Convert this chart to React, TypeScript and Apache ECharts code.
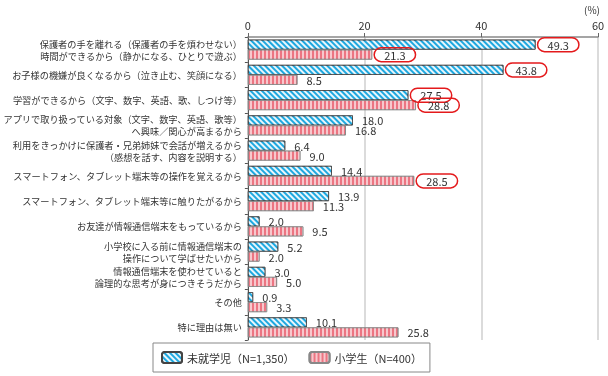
import React, { useEffect, useRef } from "react";
import * as echarts from "echarts";

const categories = [
  "保護者の手を離れる（保護者の手を煩わせない）\n時間ができるから（静かになる、ひとりで遊ぶ）",
  "お子様の機嫌が良くなるから（泣き止む、笑顔になる）",
  "学習ができるから（文字、数字、英語、歌、しつけ等）",
  "アプリで取り扱っている対象（文字、数字、英語、歌等）\nへ興味／関心が高まるから",
  "利用をきっかけに保護者・兄弟姉妹で会話が増えるから\n（感想を話す、内容を説明する）",
  "スマートフォン、タブレット端末等の操作を覚えるから",
  "スマートフォン、タブレット端末等に触りたがるから",
  "お友達が情報通信端末をもっているから",
  "小学校に入る前に情報通信端末の\n操作について学ばせたいから",
  "情報通信端末を使わせていると\n論理的な思考が身につきそうだから",
  "その他",
  "特に理由は無い",
];
const preschool = [49.3, 43.8, 27.5, 18.0, 6.4, 14.4, 13.9, 2.0, 5.2, 3.0, 0.9, 10.1];
const elementary = [21.3, 8.5, 28.8, 16.8, 9.0, 28.5, 11.3, 9.5, 2.0, 5.0, 3.3, 25.8];
const preschoolCircled = [0, 1, 2];
const elementaryCircled = [0, 2, 5];
const seriesNames = ["未就学児（N=1,350）", "小学生（N=400）"];
const xTicks = [0, 20, 40, 60];

const FONT = "'Noto Sans CJK JP', 'Noto Sans', sans-serif";

const circleLabel = {
  borderColor: "#e41a1c",
  borderWidth: 1.5,
  borderRadius: 10,
  padding: [2, 10, 1, 10],
  offset: [-7, 0],
};

function mkData(vals: number[], circled: number[]) {
  return vals.map((v, i) =>
    circled.includes(i) ? { value: v, label: circleLabel } : { value: v }
  );
}

export default function App() {
  const ref = useRef<HTMLDivElement>(null);
  useEffect(() => {
    if (!ref.current) return;
    const chart = echarts.init(ref.current, undefined, { renderer: "svg" });
    const labelBase = {
      show: true,
      position: "right" as const,
      distance: 9,
      color: "#333",
      fontSize: 11,
      fontFamily: FONT,
      formatter: (p: any) => Number(p.value).toFixed(1),
    };
    chart.setOption({
      animation: false,
      textStyle: { fontFamily: FONT },
      grid: { left: 246, right: 10, top: 37, bottom: 36, containLabel: false },
      xAxis: {
        type: "value",
        position: "top",
        min: xTicks[0],
        max: xTicks[xTicks.length - 1],
        interval: 20,
        axisLine: { show: true, lineStyle: { color: "#888", width: 1.5 } },
        axisTick: { show: true, length: 4, lineStyle: { color: "#666" } },
        axisLabel: { color: "#333", fontSize: 11, margin: 7, fontFamily: FONT },
        splitLine: { show: true, lineStyle: { color: "#cfcfcf", width: 1.5 } },
      },
      yAxis: {
        type: "category",
        data: categories,
        inverse: true,
        axisLine: { show: true, lineStyle: { color: "#555" } },
        axisTick: { show: true, length: 3, lineStyle: { color: "#555" } },
        axisLabel: {
          color: "#333",
          fontSize: 9.2,
          lineHeight: 12,
          margin: 6,
          fontFamily: FONT,
          align: "right",
        },
      },
      legend: {
        bottom: 4,
        left: 153,
        itemWidth: 20,
        itemHeight: 11,
        itemGap: 14,
        padding: [8, 8, 8, 8],
        borderColor: "#888",
        borderWidth: 1,
        textStyle: { color: "#333", fontSize: 11, fontFamily: FONT },
        data: seriesNames,
      },
      graphic: [
        {
          type: "text",
          right: 8,
          top: 4,
          style: { text: "(%)", fill: "#333", fontSize: 10, fontFamily: FONT },
        },
      ],
      series: [
        {
          name: seriesNames[0],
          type: "bar",
          barWidth: 10,
          barGap: "0%",
          data: mkData(preschool, preschoolCircled),
          itemStyle: {
            color: "#1ea8e0",
            borderColor: "#444",
            borderWidth: 0.8,
            decal: {
              symbol: "rect",
              symbolSize: 1,
              color: "rgba(255,255,255,0.9)",
              dashArrayX: [1, 0],
              dashArrayY: [2, 2],
              rotation: Math.PI / 4,
            },
          },
          label: labelBase,
        },
        {
          name: seriesNames[1],
          type: "bar",
          barWidth: 10,
          barGap: "0%",
          data: mkData(elementary, elementaryCircled),
          itemStyle: {
            color: "#ec7582",
            borderColor: "#888",
            borderWidth: 0.8,
            decal: {
              symbol: "rect",
              symbolSize: 1,
              color: "rgba(255,255,255,0.6)",
              dashArrayX: [1, 0],
              dashArrayY: [1.5, 1.5],
              rotation: Math.PI / 2,
            },
          },
          label: labelBase,
        },
      ],
    });
    return () => chart.dispose();
  }, []);
  return (
    <div
      ref={ref}
      style={{ position: "fixed", left: 0, top: 0, width: 608, height: 376 }}
    />
  );
}
